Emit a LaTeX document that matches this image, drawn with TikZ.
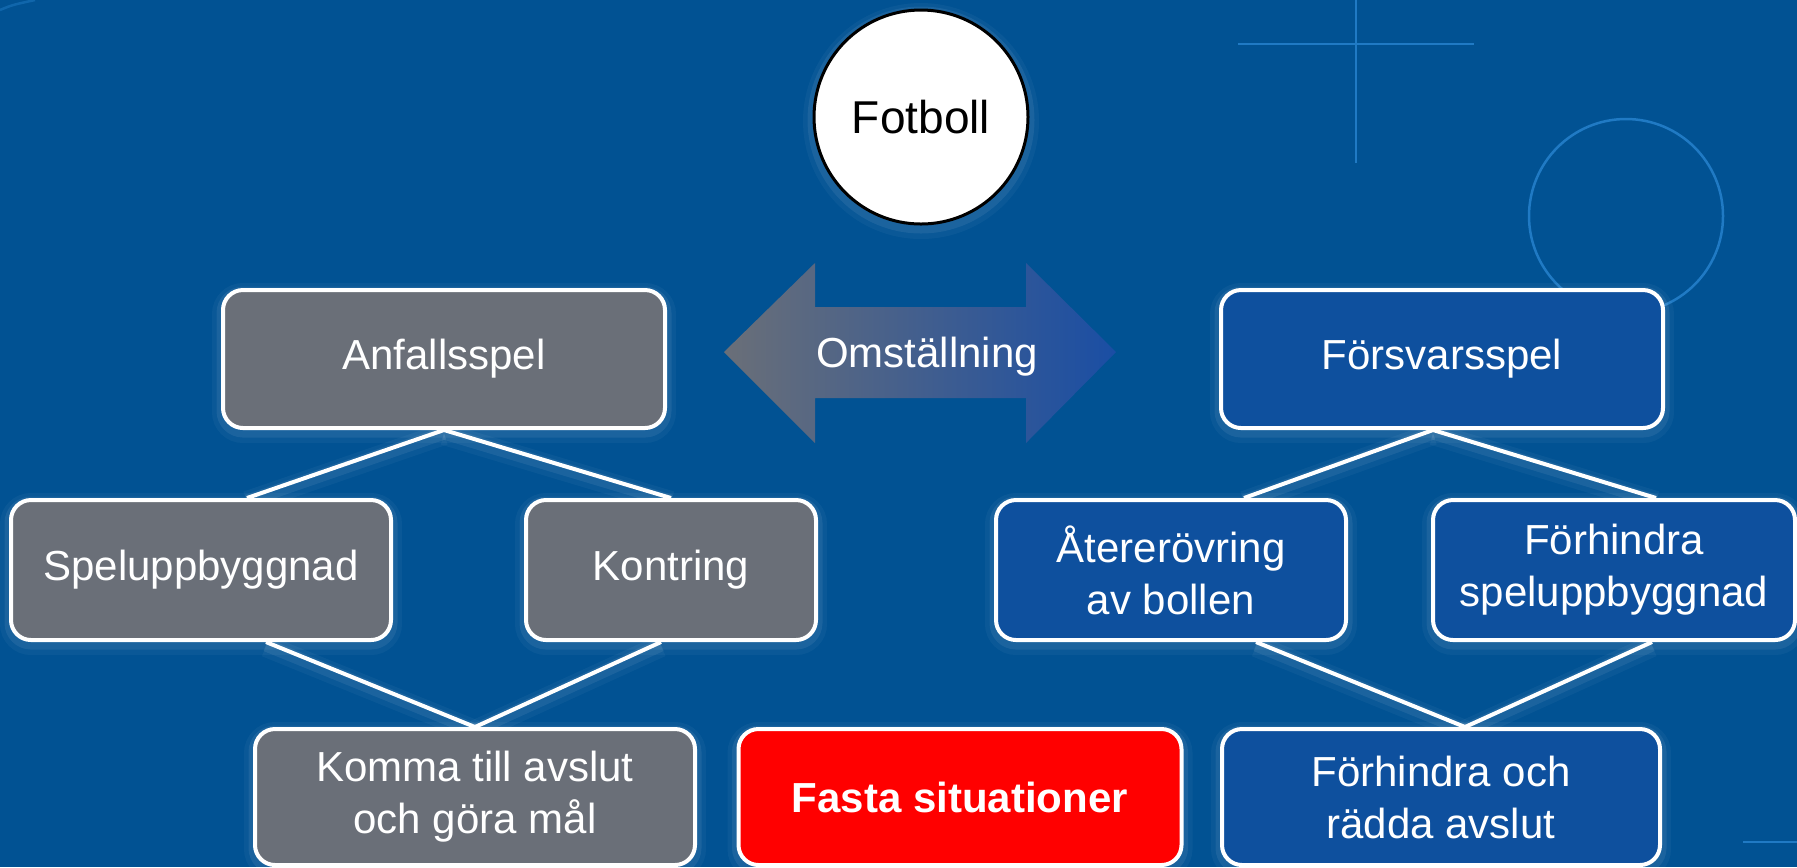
\documentclass[tikz,border=0pt]{standalone}
\usepackage{fontspec}
\setmainfont{Liberation Sans}
\usetikzlibrary{calc,backgrounds}

\definecolor{bgblue}{RGB}{1,82,147}
\definecolor{boxgray}{RGB}{106,111,120}
\definecolor{boxblue}{RGB}{14,80,158}
\definecolor{decoblue}{RGB}{32,122,196}
\definecolor{arrowblue}{RGB}{26,78,164}

\begin{document}
\begin{tikzpicture}[x=0.1mm, y=-0.1mm,
    glow/.style={preaction={draw=white, opacity=0.04, line width=2.2mm, transform canvas={yshift=-0.4mm}},
                 preaction={draw=white, opacity=0.07, line width=1.3mm, transform canvas={yshift=-0.3mm}}},
    box/.style={rectangle, rounded corners=2mm, draw=white, line width=0.4mm,
                text=white, align=center, minimum height=13.8mm,
                font=\fontsize{11.95}{14.8}\selectfont, glow},
    graybox/.style={box, fill=boxgray},
    bluebox/.style={box, fill=boxblue},
    link/.style={draw=white, line width=0.4mm, glow}]
    \useasboundingbox (0,0) rectangle (1797,867);

    % background and decoration
    \begin{scope}[on background layer]
        \fill[bgblue] (0,0) rectangle (1797,867);
        \draw[decoblue, line width=0.25mm] (1238,44) -- (1474,44);
        \draw[decoblue, line width=0.25mm] (1356,0) -- (1356,163);
        \draw[decoblue, line width=0.25mm] (1626,216) circle (9.7mm);
        \draw[decoblue, line width=0.25mm] (1743,842) -- (1797,842);
        \draw[decoblue, line width=0.25mm, opacity=0.5] (0,10) .. controls (12,5) .. (35,0);
    \end{scope}

    % Omställning arrow
    \shade[left color=boxgray, right color=arrowblue]
        (724,352) -- (815,263) -- (815,307) -- (1026,307) -- (1026,263) -- (1116,352)
        -- (1026,443) -- (1026,398) -- (815,398) -- (815,443) -- cycle;
    \node[text=white, font=\fontsize{11.95}{14.8}\selectfont] (omst) at (927,357) {Omställning};

    \node[circle, draw=black, line width=0.3mm, fill=white, minimum size=21.4mm,
          font=\fontsize{13.1}{15}\selectfont, glow] (fotboll) at (921,117) {Fotboll};

    % top level
    \node[graybox, minimum width=44.2mm] (anfall) at (444,359) {Anfallsspel};
    \node[bluebox, minimum width=44.2mm] (forsvar) at (1442,359) {Försvarsspel};

    % middle level
    \node[graybox, minimum width=38mm, minimum height=14mm] (spel) at (201,570) {Speluppbyggnad};
    \node[graybox, minimum width=29mm, minimum height=14mm] (kontring) at (671,570) {Kontring};
    \node[bluebox, minimum width=35mm, minimum height=14mm] (ater) at (1171,570) {Återerövring\\av bollen};
    \node[bluebox, minimum width=36.2mm, minimum height=14mm] (forhspel) at (1614,570) {Förhindra\\speluppbyggnad};

    % bottom level
    \node[graybox, minimum width=44mm, minimum height=13.6mm] (komma) at (475,797) {Komma till avslut\\och göra mål};
    \node[box, fill=red, minimum width=44.3mm, minimum height=13.6mm,
          font=\fontsize{11.95}{14.8}\selectfont\bfseries] (fasta) at (960,797) {Fasta situationer};
    \node[bluebox, minimum width=43.8mm, minimum height=13.6mm] (forhrad) at (1441,797) {Förhindra och\\rädda avslut};

    % connectors
    \begin{scope}[on background layer]
        \draw[link] (anfall.south) -- ($(spel.north)+(46,0)$);
        \draw[link] (anfall.south) -- (kontring.north);
        \draw[link] ($(spel.south)+(65,0)$) -- (komma.north);
        \draw[link] ($(kontring.south)+(-10,0)$) -- (komma.north);
        \draw[link] ($(forsvar.south)+(-9,0)$) -- ($(ater.north)+(73,0)$);
        \draw[link] ($(forsvar.south)+(-9,0)$) -- ($(forhspel.north)+(42,0)$);
        \draw[link] ($(ater.south)+(85,0)$) -- ($(forhrad.north)+(24,0)$);
        \draw[link] ($(forhspel.south)+(38,0)$) -- ($(forhrad.north)+(24,0)$);
    \end{scope}
\end{tikzpicture}
\end{document}
